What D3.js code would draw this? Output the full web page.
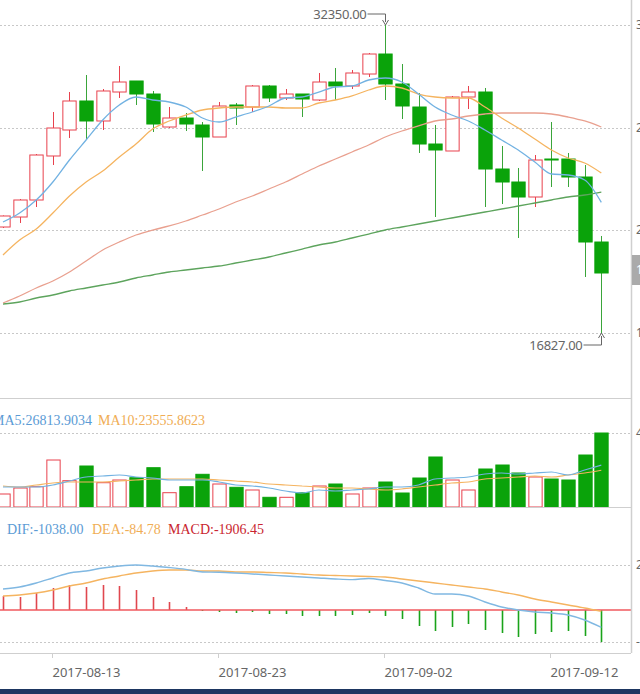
<!DOCTYPE html>
<html>
<head>
<meta charset="utf-8">
<script src="https://cdn.jsdelivr.net/npm/d3@7/dist/d3.min.js"></script>
<style>
  html, body { margin: 0; padding: 0; background: #fff; overflow: hidden; }
  svg { display: block; }
</style>
</head>
<body>
<svg id="chart" width="640" height="694"></svg>
<script>
// ---------------- DATA ----------------
const dates = ['2017-08-10','2017-08-11','2017-08-12','2017-08-13','2017-08-14','2017-08-15','2017-08-16','2017-08-17','2017-08-18','2017-08-19','2017-08-20','2017-08-21','2017-08-22','2017-08-23','2017-08-24','2017-08-25','2017-08-26','2017-08-27','2017-08-28','2017-08-29','2017-08-30','2017-08-31','2017-09-01','2017-09-02','2017-09-03','2017-09-04','2017-09-05','2017-09-06','2017-09-07','2017-09-08','2017-09-09','2017-09-10','2017-09-11','2017-09-12','2017-09-13','2017-09-14','2017-09-15'];
const openP  = [22169,22673,23530,25748,27058,28520,27512,28973,29528,28872,27209,27663,27310,26705,28318,28217,29276,28671,28872,28570,29477,29276,29880,30888,29376,28217,26352,26000,28721,28973,25092,24437,23681,25596,25596,24689,21413];
const closeP = [22724,23530,25798,27159,28520,27512,29024,29477,28872,27360,27663,27360,26705,28268,28167,29276,28671,28872,28620,29477,29276,29931,30888,29376,28268,26352,26050,28721,28973,25092,24437,23681,25546,25546,24689,21413,19851];
const lowP   = [22119,22371,23177,25294,26655,26554,27058,28671,28318,26957,27159,27008,24992,26705,27310,27965,28469,28570,27713,28520,28570,29124,29729,28570,27612,25899,22673,26000,28116,23177,23328,21615,23177,24185,24185,19649,16827];
const highP  = [22750,23580,25848,27965,28973,29830,29124,30284,29528,29024,28217,27915,27461,28469,28419,29326,29326,29124,28872,29931,30183,30082,30939,32350,30384,28923,27310,28772,29276,29175,26252,25143,25798,27461,25899,25294,21716];
const ma5  = [22421,22875,23530,24437,25546,26554,27562,28318,28721,28570,28469,28217,27663,27461,27713,27965,28268,28671,28721,28973,29225,29276,29578,29679,29477,28872,28217,27814,27512,27058,26554,26050,25445,24840,24790,24538,23409];
const ma10 = [20758,21514,22068,22875,23732,24437,24992,25697,26352,27108,27512,27814,28066,28167,28217,28217,28217,28167,28167,28419,28570,28772,29074,29276,29175,28872,28721,28671,28671,28217,27663,27159,26604,26050,25647,25395,24891];
const ma20 = [18339,18692,19095,19448,19901,20456,21010,21413,21766,22018,22220,22472,22774,23076,23429,23732,24084,24437,24840,25244,25596,25949,26302,26705,27008,27260,27512,27612,27764,27864,27915,27915,27915,27864,27713,27512,27209];
const ma30 = [18288,18389,18591,18742,18944,19095,19246,19397,19599,19750,19901,20002,20103,20204,20355,20506,20657,20859,21060,21262,21413,21615,21816,22018,22169,22320,22472,22623,22774,22925,23076,23228,23379,23530,23681,23782,23933];
const volume  = [8327,12170,13000,30100,16850,26260,15560,17290,18770,25170,9160,13000,20940,14730,12620,10890,6210,6210,9160,13450,14730,8330,12170,16010,8970,18570,32030,17290,10890,24340,26900,21780,19220,17930,17290,33300,47400];
const volMA5  = [12810,12810,12810,14090,16650,19215,19855,20495,19215,18575,17290,17290,17290,16010,14090,13450,12170,10250,8970,10890,10250,10890,11530,12810,12810,14090,17935,18575,19215,21135,21780,21135,21780,22420,20495,23700,26813.9034];
const volMA10 = [13450,12810,14090,15370,16010,16010,16010,16650,17290,17935,17935,17935,17935,17290,16650,16010,14730,14090,13450,12810,12170,12170,11530,10890,11530,12810,14090,15370,16010,17935,18575,19215,19855,19215,20495,21780,23555.8623];
const dif  = [1252,1371,1609,1907,2205,2324,2503,2620,2680,2620,2530,2420,2265,2250,2205,2146,2086,2026,1967,1907,1848,1810,1880,1760,1609,1311,954,954,834,477,179,0,-119,-179,-298,-596,-1038.00];
const dea  = [834,894,1013,1192,1430,1609,1848,2026,2205,2324,2384,2384,2324,2324,2265,2265,2235,2205,2146,2086,2056,2026,1997,1967,1848,1728,1609,1490,1371,1252,1073,894,656,477,298,119,-84.78];
const macd = [834,775,1013,1311,1490,1371,1490,1430,1192,775,477,179,-60,-119,-179,-119,-238,-238,-358,-358,-358,-298,-179,-358,-536,-954,-1252,-1013,-834,-1192,-1371,-1609,-1430,-1311,-1252,-1550,-1906.45];
const priceTicks = [32350, 27175.67, 22001.33, 16827];
const volTicks = [47400];
const macdTicks = [2680, -1906.45];
const xTickLabels = ['2017-08-13','2017-08-23','2017-09-02','2017-09-12'];
const maxLabel = '32350.00', minLabel = '16827.00';

// ---------------- LAYOUT ----------------
const W = 640, plotRight = 631;
const UP = '#e8414d', DOWN = '#0aa30a';
const C5 = '#72b2e2', C10 = '#f5b460', C20 = '#e9a08f', C30 = '#5da45d';
const svg = d3.select('#chart');
const sans = '"Noto Sans", "Open Sans", sans-serif';
const serif = '"Liberation Serif", "DejaVu Serif", serif';
const f2 = v => d3.format('.2f')(v).replace('\u2212', '-');
const f4 = v => d3.format('.4f')(v).replace('\u2212', '-');
const f0 = v => d3.format('.0f')(v).replace('\u2212', '-');

svg.append('defs').append('clipPath').attr('id','clip')
  .append('rect').attr('x',0).attr('y',0).attr('width',plotRight).attr('height',694);

const x = d3.scaleBand().domain(dates).range([-5.31, -5.31 + 16.62*dates.length]).padding(0);
const cx = d => x(d) + x.bandwidth()/2;
const bw = x.bandwidth()*0.8;

const yP = d3.scaleLinear().domain([16827, 32350]).range([333, 25]);
const yV = d3.scaleLinear().domain([0, 47400]).range([507, 433]);
const yM = d3.scaleLinear().domain([-1906.45, 2680]).range([642, 565]);

const g = svg.append('g').attr('clip-path','url(#clip)');

// gridlines
function grid(scale, ticks) {
  g.selectAll(null).data(ticks).enter().append('line')
    .attr('x1',0).attr('x2',plotRight)
    .attr('y1',d=>Math.round(scale(d))+0.5).attr('y2',d=>Math.round(scale(d))+0.5)
    .attr('stroke','#c8c8c8').attr('stroke-dasharray','2,2');
}
grid(yP, priceTicks); grid(yV, volTicks); grid(yM, macdTicks);

// axis lines
[398, 507, 653].forEach(yy => {
  svg.append('line').attr('x1',0).attr('x2',plotRight).attr('y1',yy+0.5).attr('y2',yy+0.5).attr('stroke','#cfcfcf');
});
svg.append('line').attr('x1',plotRight+0.5).attr('x2',plotRight+0.5).attr('y1',0).attr('y2',653).attr('stroke','#cfcfcf').attr('stroke-width',1.5);

// right axis labels (cut off by the frame edge, as in the reference)
function rlabels(scale, ticks, fmt) {
  svg.selectAll(null).data(ticks).enter().append('text')
    .attr('x',636).attr('y',d=>scale(d)+4).attr('fill','#666')
    .attr('font-family',sans).attr('font-size',12).text(fmt);
}
rlabels(yP, priceTicks, f2);
rlabels(yV, volTicks, f0);
rlabels(yM, macdTicks, f0);

// ---------------- CANDLES ----------------
const idx = d3.range(dates.length);
const cg = g.append('g');
idx.forEach(i => {
  const up = closeP[i] >= openP[i];
  const col = up ? UP : DOWN;
  const xc = Math.round(cx(dates[i])) + 0.5;
  cg.append('line').attr('x1',xc).attr('x2',xc).attr('y1',yP(highP[i])).attr('y2',yP(lowP[i]))
    .attr('stroke', up ? UP : '#3aa53a').attr('stroke-width',1);
  const top = yP(Math.max(openP[i], closeP[i])), bot = yP(Math.min(openP[i], closeP[i]));
  cg.append('rect').attr('x', xc - bw/2).attr('y', top).attr('width', bw).attr('height', Math.max(1, bot-top))
    .attr('fill', up ? '#fff' : DOWN).attr('stroke', col).attr('stroke-width',1);
});

// MA lines
function maLine(arr, scale, color, w) {
  g.append('path').datum(idx)
    .attr('d', d3.line().x(i=>cx(dates[i])).y(i=>scale(arr[i])).curve(d3.curveMonotoneX))
    .attr('fill','none').attr('stroke',color).attr('stroke-width',w||1.3);
}
maLine(ma30, yP, C30); maLine(ma20, yP, C20); maLine(ma10, yP, C10); maLine(ma5, yP, C5);

// max / min markers
function marker(i, val, label, above) {
  const xc = Math.round(cx(dates[i])) + 0.5;
  const yv = yP(val);
  const ly = above ? yv - 11 : yv + 12;
  const lx = xc - 18;
  g.append('path').attr('d', `M${lx},${ly}H${xc}V${above ? yv-3 : yv+3}`)
    .attr('fill','none').attr('stroke','#666').attr('stroke-width',1);
  g.append('path').attr('d', above ? `M${xc-3},${yv-5}L${xc},${yv}L${xc+3},${yv-5}` : `M${xc-3},${yv+5}L${xc},${yv}L${xc+3},${yv+5}`)
    .attr('fill','none').attr('stroke','#666').attr('stroke-width',1);
  g.append('text').attr('x', lx - 1).attr('y', ly + 4.5).attr('text-anchor','end')
    .attr('fill','#666').attr('font-family',sans).attr('font-size',13).attr('letter-spacing',-0.3).text(label);
}
marker(highP.indexOf(d3.max(highP)), d3.max(highP), maxLabel, true);
marker(lowP.indexOf(d3.min(lowP)), d3.min(lowP), minLabel, false);

// last price box
const lastY = yP(closeP[closeP.length-1]);
svg.append('rect').attr('x',plotRight+1).attr('y',lastY-18).attr('width',12).attr('height',30).attr('fill','#aaaaaa');
svg.append('text').attr('x',636).attr('y',lastY+1).attr('fill','#fff').attr('font-family',sans).attr('font-size',12)
  .text(f2(closeP[closeP.length-1]));

// ---------------- VOLUME ----------------
idx.forEach(i => {
  const up = closeP[i] >= openP[i];
  const xc = Math.round(cx(dates[i])) + 0.5;
  g.append('rect').attr('x', xc - bw/2).attr('y', yV(volume[i])).attr('width', bw).attr('height', 507 - yV(volume[i]))
    .attr('fill', up ? '#fff' : DOWN).attr('stroke', up ? UP : DOWN).attr('stroke-width',1);
});
maLine(volMA10, yV, C10, 1.2); maLine(volMA5, yV, C5, 1.2);

g.append('text').attr('x',-8).attr('y',425).attr('font-family',serif).attr('font-size',14)
  .attr('fill','#5b9bd5').text('MA5:' + f4(volMA5[volMA5.length-1]));
g.append('text').attr('x',98).attr('y',425).attr('font-family',serif).attr('font-size',14)
  .attr('fill','#f0ad55').text('MA10:' + f4(volMA10[volMA10.length-1]));

// ---------------- MACD ----------------
const y0 = yM(0);
idx.forEach(i => {
  const xc = Math.round(cx(dates[i])) + 0.5;
  g.append('line').attr('x1',xc).attr('x2',xc).attr('y1',y0).attr('y2',yM(macd[i]))
    .attr('stroke', macd[i] >= 0 ? '#e0474f' : '#1aa31a').attr('stroke-width',1.6);
});
g.append('line').attr('x1',0).attr('x2',plotRight).attr('y1',y0).attr('y2',y0).attr('stroke','#f0585e').attr('stroke-width',1.4);
maLine(dea, yM, C10, 1.4); maLine(dif, yM, '#80b8e2', 1.4);

svg.append('text').attr('x',7).attr('y',534).attr('font-family',serif).attr('font-size',14)
  .attr('fill','#5b9bd5').text('DIF:' + f2(dif[dif.length-1]));
svg.append('text').attr('x',92).attr('y',534).attr('font-family',serif).attr('font-size',14)
  .attr('fill','#f0ad55').text('DEA:' + f2(dea[dea.length-1]));
svg.append('text').attr('x',168).attr('y',534).attr('font-family',serif).attr('font-size',14)
  .attr('fill','#c9252f').text('MACD:' + f2(macd[macd.length-1]));

// x axis ticks + labels
xTickLabels.forEach(lbl => {
  const xc = Math.round(cx(lbl)) - 0.5;
  svg.append('line').attr('x1',xc).attr('x2',xc).attr('y1',653).attr('y2',658).attr('stroke','#cfcfcf');
  svg.append('text').attr('x',xc).attr('y',677).attr('fill','#666').attr('font-family',sans)
    .attr('font-size',13).text(lbl);
});

// bottom dark band
svg.append('rect').attr('x',0).attr('y',689).attr('width',W).attr('height',5).attr('fill','#1d3661');
</script>
</body>
</html>
